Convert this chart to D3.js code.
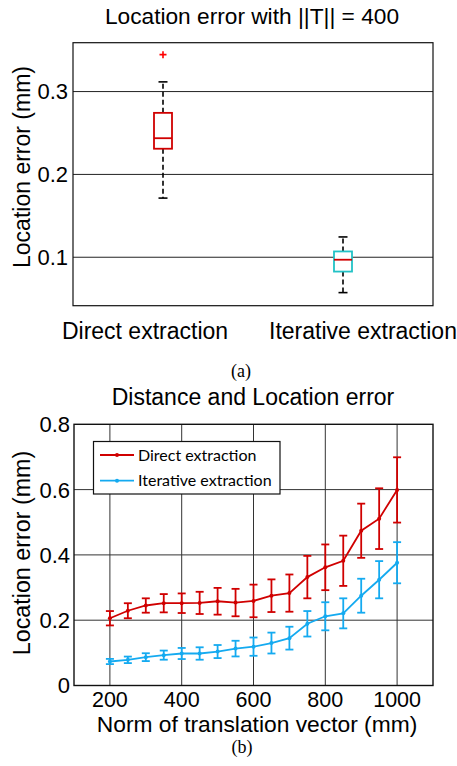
<!DOCTYPE html>
<html>
<head>
<meta charset="utf-8">
<script src="https://cdn.jsdelivr.net/npm/d3@7"></script>
<style>
  html, body { margin: 0; padding: 0; background: #fff; }
  svg { display: block; }
</style>
</head>
<body>
<svg id="chart" width="457" height="766"></svg>
<script>
// ---------- DATA ----------
// (a) box plot
const boxCategories = ["Direct extraction", "Iterative extraction"];
const boxQ1 = [0.231, 0.0827];
const boxMedian = [0.2437, 0.097];
const boxQ3 = [0.2743, 0.107];
const boxWhiskerLow = [0.1714, 0.0573];
const boxWhiskerHigh = [0.3117, 0.1245];
const boxOutliers = [[0.3446], []];
const boxYTicks = [0.1, 0.2, 0.3];

// (b) line + error bars
const distances = [200, 250, 300, 350, 400, 450, 500, 550, 600, 650, 700, 750, 800, 850, 900, 950, 1000];
const directMean = [0.206, 0.229, 0.245, 0.252, 0.252, 0.253, 0.258, 0.254, 0.259, 0.275, 0.283, 0.332, 0.362, 0.382, 0.474, 0.511, 0.599];
const directErr  = [0.022, 0.023, 0.022, 0.028, 0.030, 0.034, 0.041, 0.042, 0.050, 0.050, 0.057, 0.065, 0.070, 0.077, 0.083, 0.093, 0.100];
const iterMean   = [0.0735, 0.0786, 0.0868, 0.093, 0.098, 0.098, 0.104, 0.113, 0.119, 0.130, 0.145, 0.189, 0.212, 0.221, 0.275, 0.324, 0.376];
const iterErr    = [0.008, 0.010, 0.012, 0.014, 0.017, 0.019, 0.020, 0.024, 0.028, 0.032, 0.035, 0.039, 0.043, 0.046, 0.052, 0.057, 0.063];
const seriesNames = ["Direct extraction", "Iterative extraction"];
const lineXTicks = [200, 400, 600, 800, 1000];
const lineYTicks = [0, 0.2, 0.4, 0.6, 0.8];

// ---------- STYLE ----------
const FONT = "'Liberation Sans', Arial, Helvetica, sans-serif";
const SERIF = "'Liberation Serif', 'Times New Roman', serif";
const RED = "#d00000";
const BLUE = "#14aaf0";
const CYAN = "#22c2c6";

const svg = d3.select("#chart");

// =============== (a) BOX PLOT ===============
const A = { left: 73, right: 433, top: 42.7, bottom: 305.7 };
const xA = d3.scaleLinear().domain([0.5, 2.5]).range([A.left, A.right]);
const yA = d3.scaleLinear().domain([0.0415, 0.359]).range([A.bottom, A.top]);

const gA = svg.append("g");

gA.selectAll("line.grid").data(boxYTicks).join("line")
  .attr("x1", A.left).attr("x2", A.right)
  .attr("y1", d => yA(d)).attr("y2", d => yA(d))
  .attr("stroke", "#222").attr("stroke-width", 1);

gA.append("rect")
  .attr("x", A.left).attr("y", A.top)
  .attr("width", A.right - A.left).attr("height", A.bottom - A.top)
  .attr("fill", "none").attr("stroke", "#111").attr("stroke-width", 1.2);

gA.selectAll("text.ytick").data(boxYTicks).join("text")
  .attr("x", A.left - 5).attr("y", d => yA(d))
  .attr("dy", "0.36em")
  .attr("text-anchor", "end")
  .attr("font-family", FONT).attr("font-size", 22)
  .text(d => d3.format(".1f")(d));

gA.append("text")
  .attr("transform", `translate(30, 167) rotate(-90)`)
  .attr("text-anchor", "middle")
  .attr("font-family", FONT).attr("font-size", 23)
  .text("Location error (mm)");

gA.append("text")
  .attr("x", 252).attr("y", 23.5)
  .attr("text-anchor", "middle")
  .attr("font-family", FONT).attr("font-size", 22.7)
  .text("Location error with ||T|| = 400");

const labelOffset = [-18, 20];
gA.selectAll("text.cat").data(boxCategories).join("text")
  .attr("x", (d, i) => xA(i + 1) + labelOffset[i])
  .attr("y", 339)
  .attr("text-anchor", "middle")
  .attr("font-family", FONT).attr("font-size", 23)
  .text(d => d);

const boxColors = [RED, CYAN];
const boxW = 18, capW = 9;
boxCategories.forEach((c, i) => {
  const cx = xA(i + 1);
  const g = gA.append("g");
  g.append("line").attr("x1", cx).attr("x2", cx)
    .attr("y1", yA(boxQ3[i])).attr("y2", yA(boxWhiskerHigh[i]))
    .attr("stroke", "#000").attr("stroke-width", 1.6).attr("stroke-dasharray", "5,3");
  g.append("line").attr("x1", cx).attr("x2", cx)
    .attr("y1", yA(boxQ1[i])).attr("y2", yA(boxWhiskerLow[i]))
    .attr("stroke", "#000").attr("stroke-width", 1.6).attr("stroke-dasharray", "5,3");
  [boxWhiskerHigh[i], boxWhiskerLow[i]].forEach(v => {
    g.append("line").attr("x1", cx - capW / 2).attr("x2", cx + capW / 2)
      .attr("y1", yA(v)).attr("y2", yA(v))
      .attr("stroke", "#000").attr("stroke-width", 1.6);
  });
  g.append("rect")
    .attr("x", cx - boxW / 2).attr("y", yA(boxQ3[i]))
    .attr("width", boxW).attr("height", yA(boxQ1[i]) - yA(boxQ3[i]))
    .attr("fill", "#fff").attr("stroke", boxColors[i]).attr("stroke-width", 1.8);
  g.append("line").attr("x1", cx - boxW / 2).attr("x2", cx + boxW / 2)
    .attr("y1", yA(boxMedian[i])).attr("y2", yA(boxMedian[i]))
    .attr("stroke", RED).attr("stroke-width", 1.8);
  boxOutliers[i].forEach(v => {
    const oy = yA(v);
    g.append("path")
      .attr("d", `M${cx - 3.5},${oy}H${cx + 3.5}M${cx},${oy - 3.5}V${oy + 3.5}`)
      .attr("stroke", "#ff0000").attr("stroke-width", 1.6);
  });
});

svg.append("text")
  .attr("x", 241).attr("y", 377)
  .attr("text-anchor", "middle")
  .attr("font-family", SERIF)
  .attr("font-size", 18)
  .text("(a)");

// =============== (b) LINE CHART ===============
const B = { left: 74, right: 433, top: 424.3, bottom: 685.5 };
const xB = d3.scaleLinear().domain([100, 1100]).range([B.left, B.right]);
const yB = d3.scaleLinear().domain([0, 0.8]).range([B.bottom, B.top]);
const gB = svg.append("g");

gB.selectAll("line.gx").data(lineXTicks).join("line")
  .attr("x1", d => xB(d)).attr("x2", d => xB(d))
  .attr("y1", B.top).attr("y2", B.bottom)
  .attr("stroke", "#333").attr("stroke-width", 1);
gB.selectAll("line.gy").data(lineYTicks.slice(1, -1)).join("line")
  .attr("x1", B.left).attr("x2", B.right)
  .attr("y1", d => yB(d)).attr("y2", d => yB(d))
  .attr("stroke", "#333").attr("stroke-width", 1);

gB.selectAll("text.xt").data(lineXTicks).join("text")
  .attr("x", d => xB(d)).attr("y", 707)
  .attr("text-anchor", "middle")
  .attr("font-family", FONT).attr("font-size", 21.5)
  .text(d => d);
gB.selectAll("text.yt").data(lineYTicks).join("text")
  .attr("x", B.left - 4).attr("y", d => yB(d))
  .attr("dy", "0.36em")
  .attr("text-anchor", "end")
  .attr("font-family", FONT).attr("font-size", 22)
  .text(d => d === 0 ? "0" : d3.format(".1f")(d));

gB.append("text")
  .attr("x", 257).attr("y", 732)
  .attr("text-anchor", "middle")
  .attr("font-family", FONT).attr("font-size", 22.8)
  .text("Norm of translation vector (mm)");
gB.append("text")
  .attr("transform", `translate(30, 553) rotate(-90)`)
  .attr("text-anchor", "middle")
  .attr("font-family", FONT).attr("font-size", 23.3)
  .text("Location error (mm)");
gB.append("text")
  .attr("x", 253).attr("y", 405)
  .attr("text-anchor", "middle")
  .attr("font-family", FONT).attr("font-size", 23)
  .text("Distance and Location error");

const series = [
  { name: seriesNames[0], mean: directMean, err: directErr, color: RED },
  { name: seriesNames[1], mean: iterMean, err: iterErr, color: BLUE }
];
const line = d3.line().x(d => xB(d.x)).y(d => yB(d.y));
series.forEach(s => {
  const pts = distances.map((x, i) => ({ x, y: s.mean[i], e: s.err[i] }));
  const g = gB.append("g");
  const eb = g.selectAll("g.eb").data(pts).join("g");
  eb.append("line")
    .attr("x1", d => xB(d.x)).attr("x2", d => xB(d.x))
    .attr("y1", d => yB(d.y - d.e)).attr("y2", d => yB(d.y + d.e))
    .attr("stroke", s.color).attr("stroke-width", 1.8);
  eb.append("line")
    .attr("x1", d => xB(d.x) - 4).attr("x2", d => xB(d.x) + 4)
    .attr("y1", d => yB(d.y + d.e)).attr("y2", d => yB(d.y + d.e))
    .attr("stroke", s.color).attr("stroke-width", 1.8);
  eb.append("line")
    .attr("x1", d => xB(d.x) - 4).attr("x2", d => xB(d.x) + 4)
    .attr("y1", d => yB(d.y - d.e)).attr("y2", d => yB(d.y - d.e))
    .attr("stroke", s.color).attr("stroke-width", 1.8);
  g.append("path").datum(pts).attr("d", line)
    .attr("fill", "none").attr("stroke", s.color).attr("stroke-width", 1.8);
  g.selectAll("circle").data(pts).join("circle")
    .attr("cx", d => xB(d.x)).attr("cy", d => yB(d.y)).attr("r", 2)
    .attr("fill", s.color);
});

gB.append("rect")
  .attr("x", B.left).attr("y", B.top)
  .attr("width", B.right - B.left).attr("height", B.bottom - B.top)
  .attr("fill", "none").attr("stroke", "#111").attr("stroke-width", 1.4);

const lg = gB.append("g");
lg.append("rect")
  .attr("x", 93.5).attr("y", 441.5).attr("width", 186.5).attr("height", 52.5)
  .attr("fill", "#fff").attr("stroke", "#111").attr("stroke-width", 1.2);
series.forEach((s, i) => {
  const ly = 455 + i * 25.7;
  lg.append("line").attr("x1", 100).attr("x2", 134).attr("y1", ly).attr("y2", ly)
    .attr("stroke", s.color).attr("stroke-width", 1.8);
  lg.append("circle").attr("cx", 117).attr("cy", ly).attr("r", 2).attr("fill", s.color);
  lg.append("text").attr("x", 138).attr("y", ly).attr("dy", "0.36em")
    .attr("font-family", "Lato, 'Open Sans', sans-serif").attr("font-size", 16)
    .text(s.name);
});

svg.append("text")
  .attr("x", 242).attr("y", 753)
  .attr("text-anchor", "middle")
  .attr("font-family", SERIF)
  .attr("font-size", 18)
  .text("(b)");
</script>
</body>
</html>
